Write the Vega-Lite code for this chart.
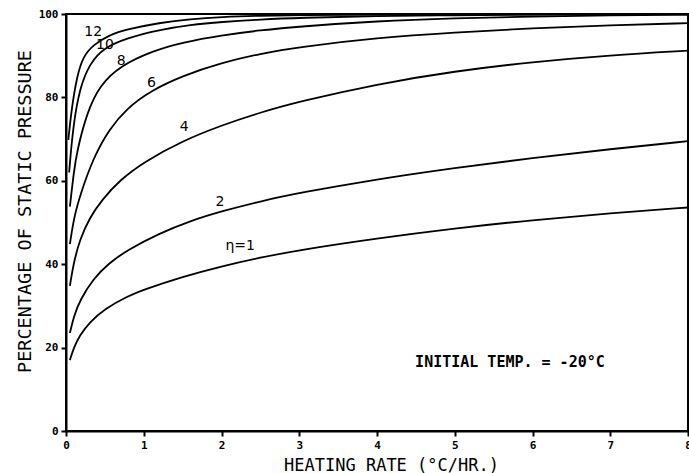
{
  "$schema": "https://vega.github.io/schema/vega-lite/v6.json",
  "width": 622,
  "height": 417,
  "autosize": "none",
  "padding": {"left": 66, "top": 14, "right": 1, "bottom": 42},
  "background": "white",
  "config": {
    "view": {"stroke": "black", "strokeWidth": 2},
    "font": "DejaVu Sans Mono"
  },
  "layer": [
    {
      "data": {
        "values": [
          {"eta": "1", "x": 0.05, "y": 17}, {"eta": "1", "x": 0.1, "y": 20}, {"eta": "1", "x": 0.18, "y": 23}, {"eta": "1", "x": 0.3, "y": 26}, {"eta": "1", "x": 0.5, "y": 29.3}, {"eta": "1", "x": 0.78, "y": 32.2}, {"eta": "1", "x": 1, "y": 33.9}, {"eta": "1", "x": 1.5, "y": 37}, {"eta": "1", "x": 2, "y": 39.5}, {"eta": "1", "x": 2.5, "y": 41.6}, {"eta": "1", "x": 3, "y": 43.4}, {"eta": "1", "x": 4, "y": 46.2}, {"eta": "1", "x": 5, "y": 48.6}, {"eta": "1", "x": 6, "y": 50.6}, {"eta": "1", "x": 7, "y": 52.2}, {"eta": "1", "x": 8, "y": 53.6},
          {"eta": "2", "x": 0.05, "y": 23.5}, {"eta": "2", "x": 0.1, "y": 27.5}, {"eta": "2", "x": 0.18, "y": 31.4}, {"eta": "2", "x": 0.35, "y": 36.5}, {"eta": "2", "x": 0.55, "y": 40.2}, {"eta": "2", "x": 0.78, "y": 43.3}, {"eta": "2", "x": 1.2, "y": 47.4}, {"eta": "2", "x": 1.6, "y": 50.4}, {"eta": "2", "x": 2, "y": 52.7}, {"eta": "2", "x": 2.5, "y": 55.1}, {"eta": "2", "x": 3, "y": 57.1}, {"eta": "2", "x": 4, "y": 60.4}, {"eta": "2", "x": 5, "y": 63.1}, {"eta": "2", "x": 6, "y": 65.5}, {"eta": "2", "x": 7, "y": 67.6}, {"eta": "2", "x": 8, "y": 69.5},
          {"eta": "4", "x": 0.05, "y": 34.8}, {"eta": "4", "x": 0.1, "y": 40.5}, {"eta": "4", "x": 0.18, "y": 46}, {"eta": "4", "x": 0.3, "y": 51}, {"eta": "4", "x": 0.46, "y": 55.4}, {"eta": "4", "x": 0.7, "y": 60.3}, {"eta": "4", "x": 1, "y": 64.5}, {"eta": "4", "x": 1.5, "y": 69.6}, {"eta": "4", "x": 2, "y": 73.3}, {"eta": "4", "x": 2.5, "y": 76.4}, {"eta": "4", "x": 3, "y": 79}, {"eta": "4", "x": 4, "y": 83.2}, {"eta": "4", "x": 5, "y": 86.3}, {"eta": "4", "x": 6, "y": 88.5}, {"eta": "4", "x": 7, "y": 90.1}, {"eta": "4", "x": 8, "y": 91.2},
          {"eta": "6", "x": 0.05, "y": 44.8}, {"eta": "6", "x": 0.1, "y": 51}, {"eta": "6", "x": 0.18, "y": 56.5}, {"eta": "6", "x": 0.35, "y": 65.5}, {"eta": "6", "x": 0.56, "y": 72.5}, {"eta": "6", "x": 0.78, "y": 77.3}, {"eta": "6", "x": 1.08, "y": 81.5}, {"eta": "6", "x": 1.5, "y": 85.2}, {"eta": "6", "x": 2, "y": 88.3}, {"eta": "6", "x": 2.5, "y": 90.5}, {"eta": "6", "x": 3, "y": 92.1}, {"eta": "6", "x": 4, "y": 94.3}, {"eta": "6", "x": 5, "y": 95.6}, {"eta": "6", "x": 6, "y": 96.6}, {"eta": "6", "x": 7, "y": 97.3}, {"eta": "6", "x": 8, "y": 97.8},
          {"eta": "8", "x": 0.05, "y": 53.8}, {"eta": "8", "x": 0.1, "y": 62}, {"eta": "8", "x": 0.14, "y": 67}, {"eta": "8", "x": 0.27, "y": 76.5}, {"eta": "8", "x": 0.44, "y": 83}, {"eta": "8", "x": 0.69, "y": 87.5}, {"eta": "8", "x": 1.12, "y": 91.2}, {"eta": "8", "x": 1.5, "y": 93.2}, {"eta": "8", "x": 2, "y": 94.9}, {"eta": "8", "x": 2.5, "y": 96.1}, {"eta": "8", "x": 3, "y": 97}, {"eta": "8", "x": 4, "y": 98.3}, {"eta": "8", "x": 5, "y": 99}, {"eta": "8", "x": 6, "y": 99.4}, {"eta": "8", "x": 7, "y": 99.7}, {"eta": "8", "x": 8, "y": 99.8},
          {"eta": "10", "x": 0.04, "y": 62}, {"eta": "10", "x": 0.09, "y": 73}, {"eta": "10", "x": 0.18, "y": 82.6}, {"eta": "10", "x": 0.31, "y": 88.2}, {"eta": "10", "x": 0.48, "y": 91.8}, {"eta": "10", "x": 0.78, "y": 94.2}, {"eta": "10", "x": 1.2, "y": 96.2}, {"eta": "10", "x": 1.6, "y": 97.4}, {"eta": "10", "x": 2, "y": 98.1}, {"eta": "10", "x": 2.5, "y": 98.7}, {"eta": "10", "x": 3, "y": 99.1}, {"eta": "10", "x": 4, "y": 99.5}, {"eta": "10", "x": 5, "y": 99.7}, {"eta": "10", "x": 6, "y": 99.85}, {"eta": "10", "x": 8, "y": 100},
          {"eta": "12", "x": 0.03, "y": 69.8}, {"eta": "12", "x": 0.07, "y": 77}, {"eta": "12", "x": 0.14, "y": 85}, {"eta": "12", "x": 0.22, "y": 89.8}, {"eta": "12", "x": 0.35, "y": 92.6}, {"eta": "12", "x": 0.56, "y": 95}, {"eta": "12", "x": 0.78, "y": 96.3}, {"eta": "12", "x": 1.2, "y": 97.9}, {"eta": "12", "x": 1.6, "y": 98.8}, {"eta": "12", "x": 2, "y": 99.3}, {"eta": "12", "x": 2.5, "y": 99.6}, {"eta": "12", "x": 3, "y": 99.75}, {"eta": "12", "x": 4, "y": 99.85}, {"eta": "12", "x": 6, "y": 99.95}, {"eta": "12", "x": 8, "y": 100}
        ]
      },
      "mark": {"type": "line", "color": "black", "strokeWidth": 1.8, "interpolate": "basis", "clip": true},
      "encoding": {
        "x": {
          "field": "x", "type": "quantitative",
          "scale": {"domain": [0, 8], "nice": false, "zero": false},
          "axis": {
            "values": [0, 1, 2, 3, 4, 5, 6, 7, 8],
            "format": "d",
            "grid": false, "labelFlush": false,
            "tickSize": 5, "tickWidth": 2, "tickColor": "black",
            "domainColor": "black", "domainWidth": 2,
            "labelFont": "DejaVu Sans Mono", "labelFontWeight": "bold", "labelFontSize": 11, "labelColor": "black", "labelPadding": 3,
            "title": "HEATING RATE (°C/HR.)",
            "titleFont": "DejaVu Sans Mono", "titleFontSize": 17, "titleFontWeight": "normal", "titleColor": "black",
            "titleX": 325, "titleY": 34, "titleBaseline": "middle", "titleAlign": "center"
          }
        },
        "y": {
          "field": "y", "type": "quantitative",
          "scale": {"domain": [0, 100], "nice": false},
          "axis": {
            "values": [0, 20, 40, 60, 80, 100],
            "format": "d",
            "grid": false,
            "tickSize": 5, "tickWidth": 2, "tickColor": "black",
            "domainColor": "black", "domainWidth": 2,
            "labelFont": "DejaVu Sans Mono", "labelFontWeight": "bold", "labelFontSize": 11, "labelColor": "black", "labelPadding": 3,
            "title": "PERCENTAGE OF STATIC PRESSURE",
            "titleFont": "DejaVu Sans Mono", "titleFontSize": 18.5, "titleFontWeight": "normal", "titleColor": "black",
            "titleAngle": -90, "titleX": -42, "titleY": 197, "titleBaseline": "middle", "titleAlign": "center"
          }
        },
        "detail": {"field": "eta", "type": "nominal"}
      }
    },
    {
      "data": {
        "values": [
          {"label": "12", "x": 0.35, "y": 95.6},
          {"label": "10", "x": 0.5, "y": 92.5},
          {"label": "8", "x": 0.71, "y": 88.8},
          {"label": "6", "x": 1.1, "y": 83.4},
          {"label": "4", "x": 1.52, "y": 72.9},
          {"label": "2", "x": 1.98, "y": 54.9},
          {"label": "η=1", "x": 2.24, "y": 44.4}
        ]
      },
      "mark": {"type": "text", "font": "DejaVu Sans", "fontSize": 14, "color": "black", "align": "center", "baseline": "middle"},
      "encoding": {
        "x": {"field": "x", "type": "quantitative"},
        "y": {"field": "y", "type": "quantitative"},
        "text": {"field": "label"}
      }
    },
    {
      "data": {
        "values": [
          {"label": "INITIAL TEMP. = -20°C", "x": 5.71, "y": 16.5}
        ]
      },
      "mark": {"type": "text", "font": "DejaVu Sans Mono", "fontSize": 15, "fontWeight": "bold", "color": "black", "align": "center", "baseline": "middle"},
      "encoding": {
        "x": {"field": "x", "type": "quantitative"},
        "y": {"field": "y", "type": "quantitative"},
        "text": {"field": "label"}
      }
    }
  ]
}
